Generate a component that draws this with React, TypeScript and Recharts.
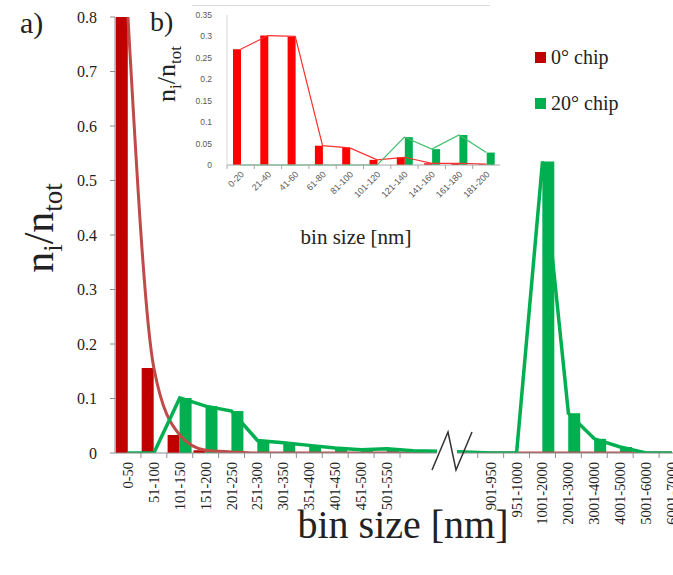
import React from "react";
import { ComposedChart, Bar, Line, XAxis, YAxis } from "recharts";

// main chart (a): size bins, the 3 empty ones sit under the axis break
const mainBins = [
  "0-50", "51-100", "101-150", "151-200", "201-250", "251-300", "301-350",
  "351-400", "401-450", "451-500", "501-550", "", "", "", "901-950",
  "951-1000", "1001-2000", "2001-3000", "3001-4000", "4001-5000",
  "5001-6000", "6001-7000",
];
const chip0 = [
  0.8, 0.156, 0.033, 0.005, 0.002, 0, 0, 0, 0, 0, 0,
  0, 0, 0, 0, 0, 0, 0, 0, 0, 0, 0,
];
const chip20 = [
  0, 0, 0.101, 0.086, 0.077, 0.023, 0.019, 0.014, 0.009, 0.006, 0.008,
  0.004, 0.003, 0.002, 0, 0, 0.535, 0.073, 0.026, 0.011, 0, 0,
];
const mainYTicks = [0, 0.1, 0.2, 0.3, 0.4, 0.5, 0.6, 0.7, 0.8];

// inset (b)
const insetBins = [
  "0-20", "21-40", "41-60", "61-80", "81-100",
  "101-120", "121-140", "141-160", "161-180", "181-200",
];
const inset0 = [0.27, 0.302, 0.3, 0.045, 0.04, 0.012, 0.018, 0.004, 0.004, 0.002];
const inset20 = [0, 0, 0, 0, 0, 0, 0.065, 0.037, 0.07, 0.029];
const insetYTicks = [0, 0.05, 0.1, 0.15, 0.2, 0.25, 0.3, 0.35];

const mainData = mainBins.map((bin, i) => ({ bin, c0: chip0[i], c20: chip20[i] }));
const insetData = insetBins.map((bin, i) => ({ bin, c0: inset0[i], c20: inset20[i] }));

const SERIF = "Liberation Serif, DejaVu Serif, Noto Serif, Times New Roman, serif";
const SANS = "Liberation Sans, Arial, sans-serif";
const RED = "#C00000";
const GREEN = "#00B050";

const MAIN_HALF = 570 / mainBins.length / 2;
const INSET_HALF = 273 / insetBins.length / 2;

const MainTick = (props: any) => {
  const { x, y, payload, index } = props;
  const label: string = payload.value;
  const prev = index > 0 ? mainBins[index - 1] : "";
  const mark = index > 0 && (label !== "" || prev !== "");
  return (
    <g>
      {mark && (
        <line x1={x - MAIN_HALF} x2={x - MAIN_HALF} y1={y - 9} y2={y - 4} stroke="#8c8c8c" />
      )}
      {label && (
        <text
          x={x}
          y={y}
          transform={`rotate(-90, ${x}, ${y})`}
          textAnchor="end"
          dy="0.34em"
          fontFamily={SERIF}
          fontSize={14.5}
          fill="#222"
        >
          {label}
        </text>
      )}
    </g>
  );
};

const InsetTick = (props: any) => {
  const { x, y, payload } = props;
  return (
    <g>
      <line x1={x - INSET_HALF} x2={x - INSET_HALF} y1={y - 8} y2={y - 4} stroke="#a6a6a6" />
      <text
        x={x + 2}
        y={y}
        transform={`rotate(-45, ${x + 2}, ${y})`}
        textAnchor="end"
        dy="0.3em"
        fontFamily={SANS}
        fontSize={9}
        fill="#595959"
      >
        {payload.value}
      </text>
    </g>
  );
};

export default function App() {
  return (
    <div
      style={{
        position: "fixed",
        left: 0,
        top: 0,
        width: 673,
        height: 575,
        overflow: "hidden",
        background: "#fff",
      }}
    >
      <div style={{ position: "absolute", left: 0, top: 0 }}>
        <ComposedChart
          width={700}
          height={575}
          data={mainData}
          margin={{ top: 17, right: 15, left: 55, bottom: 22 }}
          barGap={0}
          barCategoryGap="3%"
        >
          <XAxis
            dataKey="bin"
            interval={0}
            height={100}
            tickSize={5}
            tickMargin={4}
            tickLine={false}
            axisLine={{ stroke: "#8c8c8c" }}
            tick={<MainTick />}
          />
          <YAxis
            width={60}
            domain={[0, 0.8]}
            ticks={mainYTicks}
            allowDataOverflow
            tickSize={5}
            tickMargin={13}
            axisLine={{ stroke: "#8c8c8c" }}
            tickLine={{ stroke: "#8c8c8c" }}
            tick={{ fontFamily: SERIF, fontSize: 16, fill: "#222" }}
          />
          <Bar dataKey="c0" fill={RED} isAnimationActive={false} />
          <Bar dataKey="c20" fill={GREEN} isAnimationActive={false} />
          <Line
            dataKey="c0"
            type="monotone"
            stroke="#BE4B48"
            strokeWidth={3}
            dot={false}
            activeDot={false}
            isAnimationActive={false}
          />
          <Line
            dataKey="c20"
            type="linear"
            stroke={GREEN}
            strokeWidth={3.5}
            dot={false}
            activeDot={false}
            isAnimationActive={false}
          />
        </ComposedChart>
      </div>

      <div style={{ position: "absolute", left: 140, top: 0 }}>
        <ComposedChart
          width={370}
          height={250}
          data={insetData}
          margin={{ top: 15, right: 10, left: 47, bottom: 35 }}
          barGap={0}
          barCategoryGap="22%"
        >
          <XAxis
            dataKey="bin"
            interval={0}
            height={50}
            tickSize={4}
            tickMargin={4}
            tickLine={false}
            axisLine={{ stroke: "#a6a6a6" }}
            tick={<InsetTick />}
          />
          <YAxis
            width={40}
            domain={[0, 0.35]}
            ticks={insetYTicks}
            tickSize={0}
            tickMargin={15}
            tickLine={false}
            axisLine={{ stroke: "#d9d9d9" }}
            tick={{ fontFamily: SANS, fontSize: 8.5, fill: "#595959" }}
          />
          <Bar dataKey="c0" fill="#FF0000" isAnimationActive={false} />
          <Bar dataKey="c20" fill={GREEN} isAnimationActive={false} />
          <Line
            dataKey="c0"
            type="linear"
            stroke="#FF3030"
            strokeWidth={1.2}
            dot={false}
            activeDot={false}
            isAnimationActive={false}
          />
          <Line
            dataKey="c20"
            type="linear"
            stroke="#3cbf6a"
            strokeWidth={1.2}
            dot={false}
            activeDot={false}
            isAnimationActive={false}
          />
        </ComposedChart>
      </div>

      <svg
        width={673}
        height={575}
        style={{ position: "absolute", left: 0, top: 0, pointerEvents: "none" }}
      >
        <line x1={192} x2={490} y1={5.5} y2={5.5} stroke="#d9d9d9" />
        <text x={20} y={33} fontFamily={SERIF} fontSize={30} fill="#222">a)</text>
        <text x={150} y={31} fontFamily={SERIF} fontSize={28} fill="#222">b)</text>

        <text
          transform="translate(53, 228) rotate(-90)"
          textAnchor="middle"
          fontFamily={SERIF}
          fontSize={42}
          fill="#222"
        >
          n<tspan fontSize={27} dy={9}>i</tspan>
          <tspan dy={-9}>/n</tspan>
          <tspan fontSize={27} dy={9}>tot</tspan>
        </text>
        <text
          transform="translate(175, 74) rotate(-90)"
          textAnchor="middle"
          fontFamily={SERIF}
          fontSize={26}
          fill="#222"
        >
          n<tspan fontSize={17} dy={6}>i</tspan>
          <tspan dy={-6}>/n</tspan>
          <tspan fontSize={17} dy={6}>tot</tspan>
        </text>

        <text x={356} y={244} textAnchor="middle" fontFamily={SERIF} fontSize={21} fill="#222">
          bin size [nm]
        </text>
        <text x={403} y={538} textAnchor="middle" fontFamily={SERIF} fontSize={40} fill="#222">
          bin size [nm]
        </text>

        {/* axis break */}
        <rect x={437} y={444} width={20} height={16} fill="#fff" />
        <polyline points="432,470 448,432 456,470 472,432" fill="none" stroke="#333" strokeWidth={1.5} />
      </svg>

      <div style={{ position: "absolute", left: 535, top: 46, fontFamily: SERIF, fontSize: 20, color: "#222" }}>
        <div style={{ display: "flex", alignItems: "center", height: 22 }}>
          <span style={{ width: 11, height: 11, background: RED, marginRight: 5 }} />
          0° chip
        </div>
        <div style={{ display: "flex", alignItems: "center", height: 22, marginTop: 24 }}>
          <span style={{ width: 11, height: 11, background: GREEN, marginRight: 5 }} />
          20° chip
        </div>
      </div>
    </div>
  );
}
